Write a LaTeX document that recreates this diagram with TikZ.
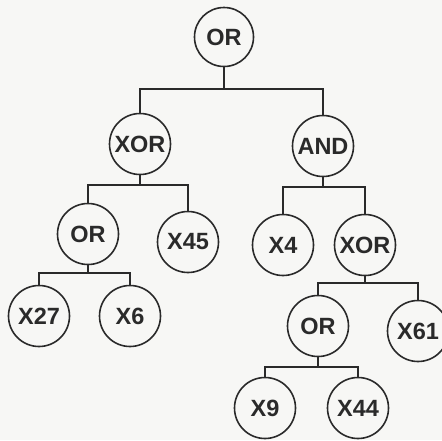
\documentclass[tikz,border=0pt]{standalone}
\usepackage{fontspec}
\setmainfont{Liberation Sans}
\definecolor{ink}{HTML}{2A2A2A}
\definecolor{paper}{HTML}{F7F7F5}
\tikzset{
  nd/.style={circle,draw=ink,line width=1.6pt,minimum size=61pt,inner sep=0pt,
             font=\fontsize{23.5}{25}\selectfont\bfseries,text=ink},
  conn/.style={draw=ink,line width=1.6pt}
}
\begin{document}
\begin{tikzpicture}[x=1pt,y=-1pt]
\fill[paper] (0,0) rectangle (442,440);
\useasboundingbox (0,0) rectangle (442,440);
% nodes
\node[nd,minimum size=59pt] (root) at (224,37) {OR};
\node[nd] (xor1) at (140,144) {XOR};
\node[nd] (and1) at (323,146) {AND};
\node[nd] (or2)  at (88,234)  {OR};
\node[nd] (x45)  at (188,242) {X45};
\node[nd] (x4)   at (283,245) {X4};
\node[nd] (xor2) at (365,245) {XOR};
\node[nd] (x27)  at (39,316)  {X27};
\node[nd] (x6)   at (130,316) {X6};
\node[nd] (or3)  at (318,326) {OR};
\node[nd] (x61)  at (418,331) {X61};
\node[nd] (x9)   at (265,408) {X9};
\node[nd] (x44)  at (358,408) {X44};
% junctions
\coordinate (j1) at (224,89);
\coordinate (j2) at (140,185);
\coordinate (j3) at (323,187);
\coordinate (j4) at (88,273);
\coordinate (j5) at (365,283);
\coordinate (j6) at (318,367);
% connectors
\draw[conn] (root) -- (j1);
\draw[conn] (xor1) |- (j1) -| (and1);
\draw[conn] (xor1) -- (j2);
\draw[conn] (or2) |- (j2) -| (x45);
\draw[conn] (and1) -- (j3);
\draw[conn] (x4) |- (j3) -| (xor2);
\draw[conn] (or2) -- (j4);
\draw[conn] (x27) |- (j4) -| (x6);
\draw[conn] (xor2) -- (j5);
\draw[conn] (or3) |- (j5) -| (x61);
\draw[conn] (or3) -- (j6);
\draw[conn] (x9) |- (j6) -| (x44);
\end{tikzpicture}
\end{document}
